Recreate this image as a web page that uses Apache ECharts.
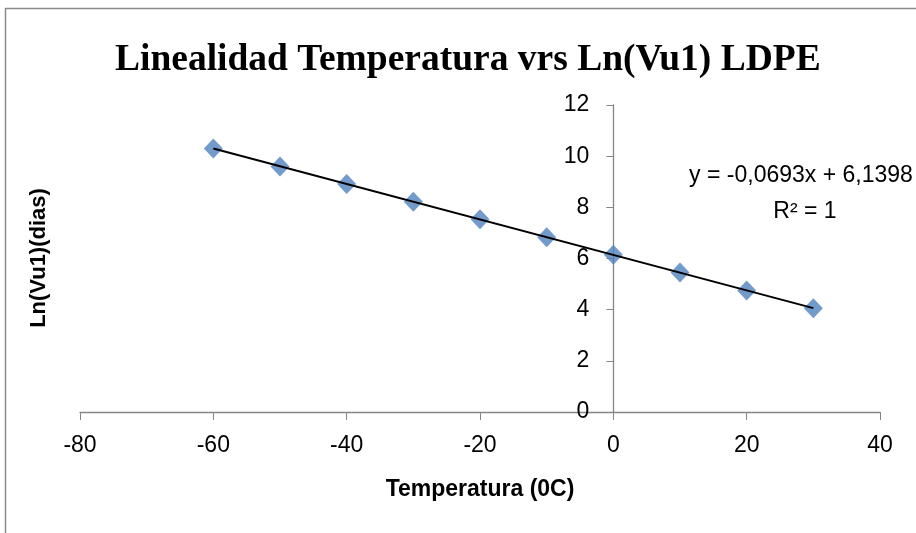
<!DOCTYPE html>
<html>
<head>
<meta charset="utf-8">
<script src="https://cdn.jsdelivr.net/npm/echarts@6/dist/echarts.min.js"></script>
<style>
  html, body { margin: 0; padding: 0; background: #fff; }
  #chart { width: 916px; height: 533px; }
</style>
</head>
<body>
<div id="chart"></div>
<script>
// data
const temps = [-60, -50, -40, -30, -20, -10, 0, 10, 20, 30]
const lnVu1 = [10.3, 9.6, 8.91, 8.22, 7.53, 6.83, 6.15, 5.45, 4.75, 4.06]
const xTicks = [-80, -60, -40, -20, 0, 20, 40]
const yTicks = [0, 2, 4, 6, 8, 10, 12]

// trend line as printed on the chart
const slope = -0.0693
const intercept = 6.1398
const trendX = [temps[0], temps[temps.length - 1]]

;(function () {
  const el = document.getElementById('chart')
  const chart = echarts.init(el)

  const labelFont = "'Liberation Sans', sans-serif"
  const axisGray = '#868686'

  const gridLeft = 80, gridRight = 36
  const plotW = 916 - gridLeft - gridRight
  const xMin = xTicks[0], xMax = xTicks[xTicks.length - 1]
  // y axis sits at x = 0, labels go with it
  const yAxisOffset = -plotW * (0 - xMin) / (xMax - xMin)

  const options = {
    animation: false,
    title: {
      text: 'Linealidad Temperatura vrs Ln(Vu1) LDPE',
      left: 110,
      top: 36,
      textStyle: {
        fontFamily: "'Liberation Serif', serif",
        fontWeight: 'bold',
        fontSize: 37.5,
        color: '#000'
      }
    },
    grid: { left: gridLeft, right: gridRight, top: 105, bottom: 121 },
    xAxis: {
      type: 'value',
      min: xMin,
      max: xMax,
      interval: 20,
      name: 'Temperatura (0C)',
      nameLocation: 'middle',
      nameGap: 66,
      nameTextStyle: { fontFamily: labelFont, fontWeight: 'bold', fontSize: 23, color: '#000' },
      splitLine: { show: false },
      axisLine: { onZero: false, lineStyle: { color: axisGray, width: 1.3 } },
      axisTick: { length: 8, lineStyle: { color: axisGray } },
      axisLabel: { margin: 22, fontFamily: labelFont, fontSize: 23, color: '#000' }
    },
    yAxis: {
      type: 'value',
      min: yTicks[0],
      max: yTicks[yTicks.length - 1],
      interval: 2,
      offset: yAxisOffset,
      splitLine: { show: false },
      axisLine: { onZero: false, lineStyle: { color: axisGray, width: 1.3 } },
      axisTick: { length: 7, lineStyle: { color: axisGray } },
      axisLabel: { margin: 24, fontFamily: labelFont, fontSize: 23, color: '#000' }
    },
    graphic: [
      {
        type: 'rect',
        shape: { x: 5.5, y: 8.5, width: 1200, height: 1200 },
        style: { fill: 'none', stroke: '#8a8a8a', lineWidth: 1.5 },
        silent: true
      },
      {
        type: 'text',
        x: 39,
        y: 258,
        rotation: Math.PI / 2,
        style: {
          text: 'Ln(Vu1)(dias)',
          fontFamily: labelFont,
          fontWeight: 'bold',
          fontSize: 22,
          fill: '#000',
          textAlign: 'center',
          textVerticalAlign: 'middle'
        }
      },
      {
        type: 'text',
        x: 801,
        y: 176,
        style: {
          text: 'y = -0,0693x + 6,1398',
          fontFamily: labelFont,
          fontSize: 23,
          fill: '#000',
          textAlign: 'center',
          textVerticalAlign: 'middle'
        }
      },
      {
        type: 'text',
        x: 805,
        y: 212,
        style: {
          text: 'R² = 1',
          fontFamily: labelFont,
          fontSize: 23,
          fill: '#000',
          textAlign: 'center',
          textVerticalAlign: 'middle'
        }
      }
    ],
    series: [
      {
        name: 'Ln(Vu1)',
        type: 'scatter',
        symbol: 'diamond',
        symbolSize: [19, 20],
        itemStyle: { color: '#4f81bd' },
        data: temps.map((t, i) => [t, lnVu1[i]]),
        z: 2
      },
      {
        name: 'Lineal',
        type: 'line',
        symbol: 'none',
        lineStyle: { color: '#000', width: 2 },
        data: trendX.map(x => [x, slope * x + intercept]),
        z: 3
      }
    ]
  }

  chart.setOption(options)

  window.addEventListener('resize', function () {
    chart.resize()
  })
})()
</script>
</body>
</html>
